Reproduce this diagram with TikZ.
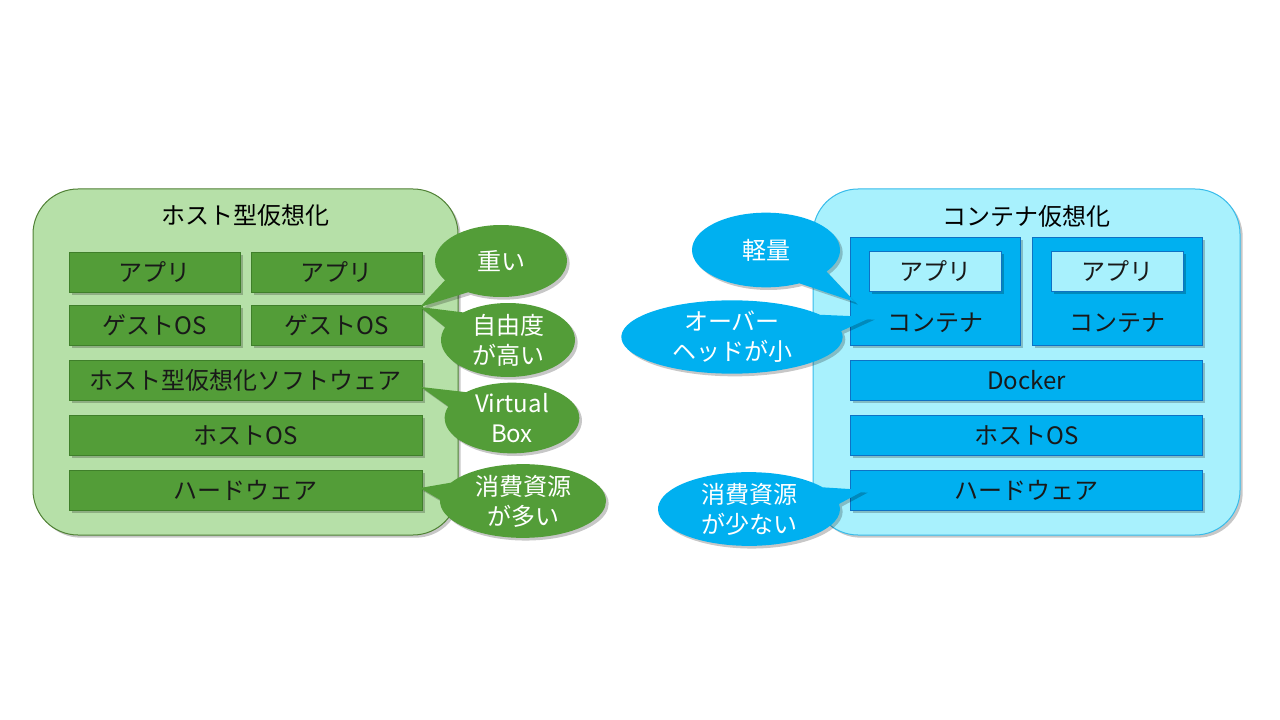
\documentclass[tikz,border=0pt]{standalone}
\usepackage{fontspec}
\setmainfont{Noto Sans CJK JP}
\usetikzlibrary{shapes.callouts,shadows}

\definecolor{hostbg}{HTML}{B6E0A8}
\definecolor{hostline}{HTML}{4F8034}
\definecolor{hostbox}{HTML}{539D38}
\definecolor{hostboxline}{HTML}{3F7F2A}
\definecolor{contbg}{HTML}{A8F1FD}
\definecolor{contline}{HTML}{36BBEA}
\definecolor{contbox}{HTML}{00B0F0}
\definecolor{contboxline}{HTML}{0E72C4}

\begin{document}
\begin{tikzpicture}[x=0.75pt,y=-0.75pt,
    font=\fontsize{18}{22.5}\selectfont,
    shade/.style={drop shadow={shadow xshift=2pt,shadow yshift=-2pt,opacity=0.22,fill=black}},
    panel/.style={rounded corners=33.75pt,line width=0.75pt,shade},
    hbox/.style={draw=hostboxline,fill=hostbox,line width=0.75pt,minimum height=30pt,inner sep=0pt,text=black!90,shade},
    cbox/.style={draw=contboxline,fill=contbox,line width=0.75pt,minimum height=30pt,inner sep=0pt,text=black!90,shade},
    ibox/.style={draw=contboxline,fill=contbg,line width=0.75pt,minimum width=99pt,minimum height=29.6pt,inner sep=0pt,text=black!90,shade},
    hcall/.style={ellipse callout,fill=hostbox,text=white,inner sep=0pt,align=center,callout pointer arc=28,shade},
    ccall/.style={ellipse callout,fill=contbox,text=white,inner sep=0pt,align=center,callout pointer arc=28,shade}]
  \useasboundingbox (0,0) rectangle (1280,720);

  % host virtualisation
  \draw[panel,draw=hostline,fill=hostbg] (33,189) rectangle (458,535);
  \node (htitle) at (245,215) {ホスト型仮想化};
  \node[hbox,minimum width=128.25pt] (app1) at (154.5,272.5) {アプリ};
  \node[hbox,minimum width=128.25pt] (app2) at (336.5,272.5) {アプリ};
  \node[hbox,minimum width=128.25pt] (gos1) at (154.5,325) {ゲストOS};
  \node[hbox,minimum width=128.25pt] (gos2) at (336.5,325) {ゲストOS};
  \node[hbox,minimum width=264.75pt] (hvsw) at (245.5,380) {ホスト型仮想化ソフトウェア};
  \node[hbox,minimum width=264.75pt] (hos) at (245.5,435) {ホストOS};
  \node[hbox,minimum width=264.75pt] (hhw) at (245.5,490) {ハードウェア};

  \coordinate (tipg) at (420,307);
  \coordinate (tipv) at (421,387);
  \coordinate (tiph) at (420,488);
  \node[hcall,minimum width=99pt,minimum height=54pt,callout absolute pointer={(tipg)}] (heavy) at (501,261) {重い};
  \node[hcall,minimum width=100.5pt,minimum height=55.5pt,callout absolute pointer={(tipg)}] (free) at (508,340) {自由度\\が高い};
  \node[hcall,minimum width=101pt,minimum height=53pt,callout absolute pointer={(tipv)}] (vbox) at (512,418) {Virtual\\Box};
  \node[hcall,minimum width=124.5pt,minimum height=54pt,callout absolute pointer={(tiph)}] (hres) at (523,501) {消費資源\\が多い};

  % container virtualisation
  \draw[panel,draw=contline,fill=contbg] (813,189) rectangle (1240,535);
  \node (ctitle) at (1026,216) {コンテナ仮想化};
  \node[cbox,minimum width=127.5pt,minimum height=81pt] (cont1) at (935.7,291.7) {};
  \node[cbox,minimum width=127.5pt,minimum height=81pt] (cont2) at (1117.7,291.7) {};
  \node[ibox] (capp1) at (935,271.4) {アプリ};
  \node[ibox] (capp2) at (1117,271.4) {アプリ};
  \node[text=black!90] (clbl1) at (935.7,323) {コンテナ};
  \node[text=black!90] (clbl2) at (1117.7,323) {コンテナ};
  \node[cbox,minimum width=264pt] (docker) at (1026.7,380) {Docker};
  \node[cbox,minimum width=264pt] (chos) at (1026.7,435) {ホストOS};
  \node[cbox,minimum width=264pt] (chw) at (1026.7,490) {ハードウェア};

  \coordinate (tipl) at (855,302);
  \coordinate (tipo) at (872,317);
  \coordinate (tipr) at (865,490);
  \node[ccall,minimum width=111pt,minimum height=56pt,callout absolute pointer={(tipl)}] (light) at (766,250) {軽量};
  \node[ccall,minimum width=166pt,minimum height=55pt,callout absolute pointer={(tipo)}] (over) at (732,337) {オーバー\\ヘッドが小};
  \node[ccall,minimum width=136.5pt,minimum height=54pt,callout absolute pointer={(tipr)}] (cres) at (749,509) {消費資源\\が少ない};
\end{tikzpicture}
\end{document}
